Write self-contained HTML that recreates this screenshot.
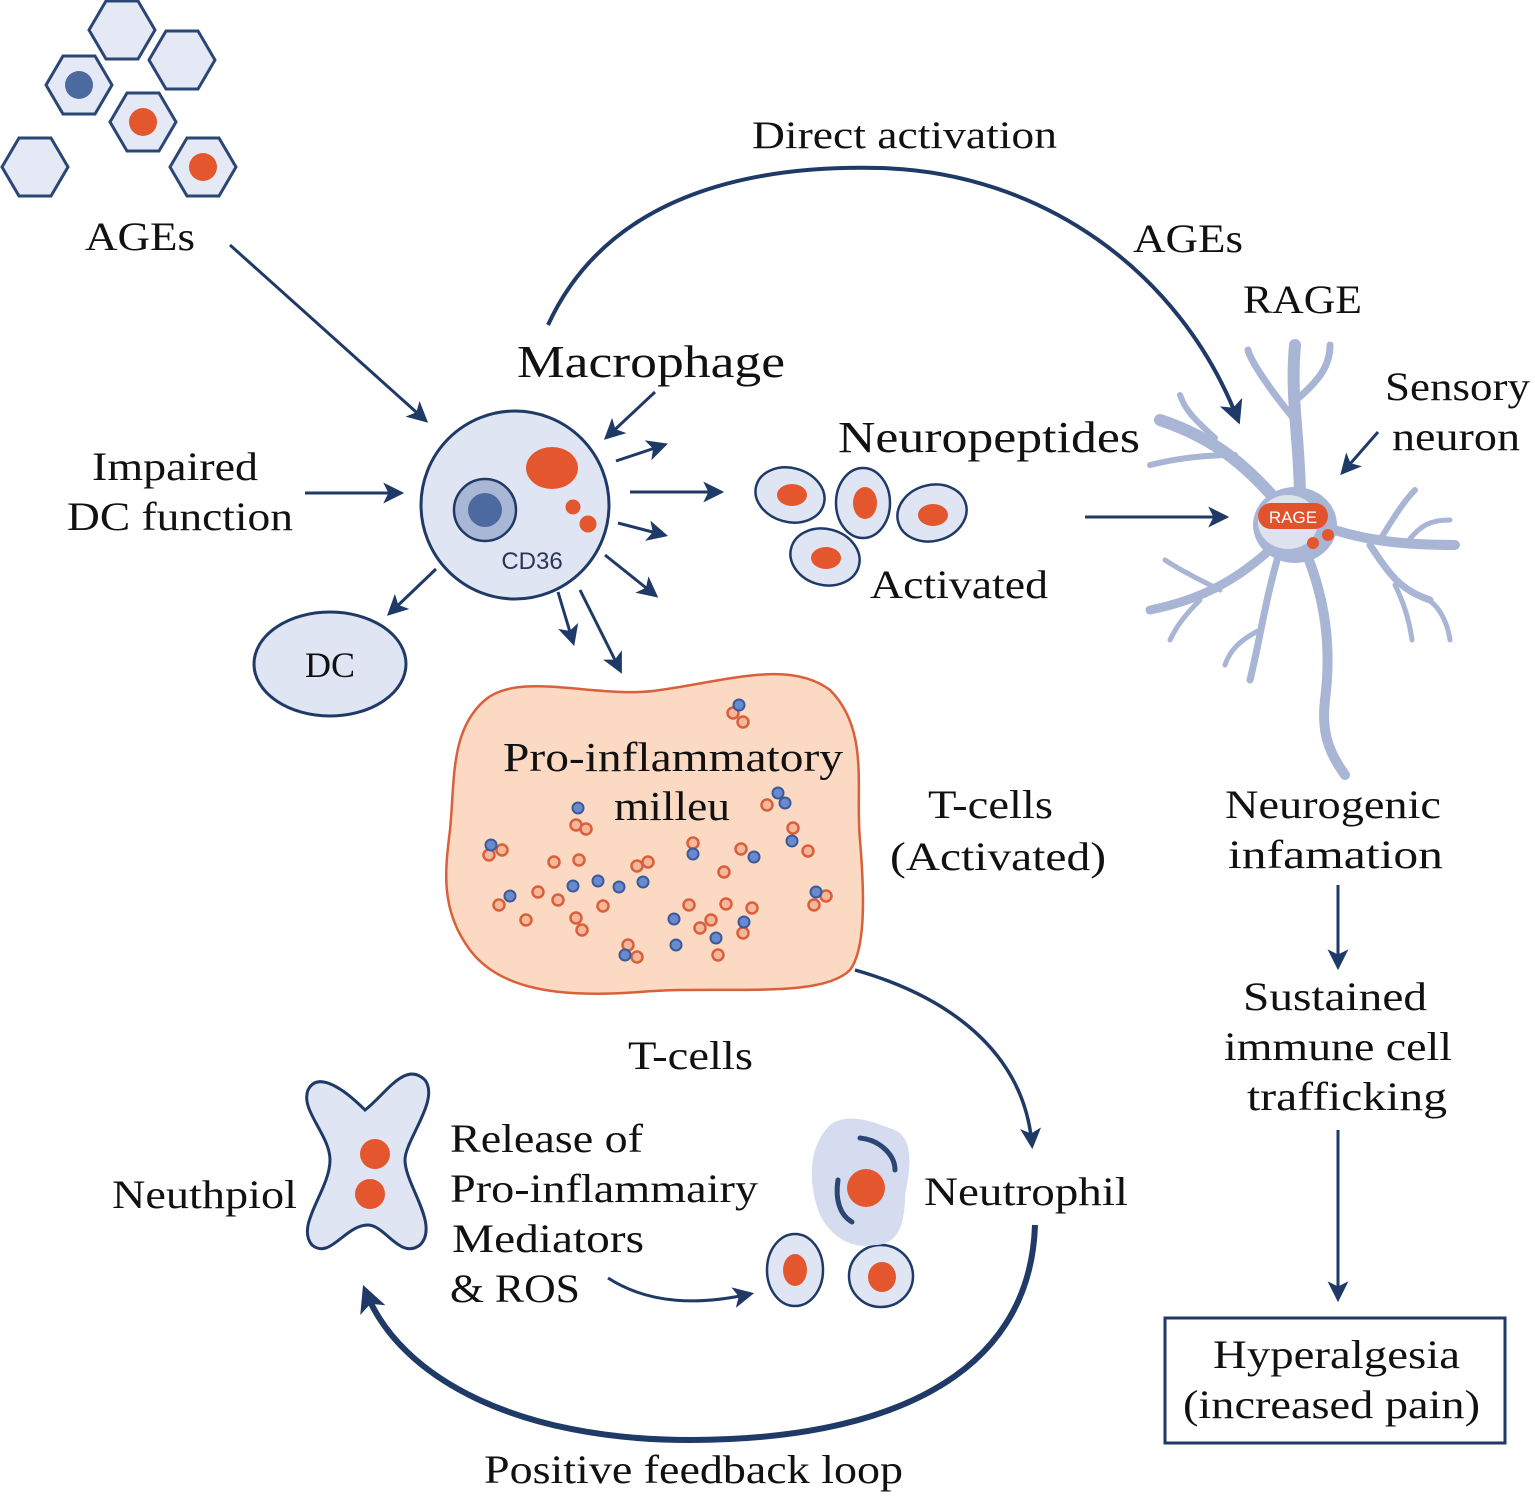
<!DOCTYPE html>
<html><head><meta charset="utf-8"><style>
html,body{margin:0;padding:0;background:#fff}
svg{display:block}
text{font-family:"Liberation Serif",serif;fill:#111}
</style></head><body>
<svg width="1535" height="1498" viewBox="0 0 1535 1498" xmlns="http://www.w3.org/2000/svg">
<defs>
<marker id="ah" viewBox="0 0 10 10" refX="8" refY="5" markerWidth="7" markerHeight="7" orient="auto" markerUnits="strokeWidth"><path d="M0,0 L10,5 L0,10 L2.5,5 z" fill="#1f3a66"/></marker>
<marker id="ahb" viewBox="0 0 10 10" refX="8" refY="5" markerWidth="6" markerHeight="6" orient="auto" markerUnits="strokeWidth"><path d="M0,0 L10,5 L0,10 L2.5,5 z" fill="#1f3a66"/></marker>
<marker id="ahc" viewBox="0 0 10 10" refX="8" refY="5" markerWidth="4.5" markerHeight="4.5" orient="auto" markerUnits="strokeWidth"><path d="M0,0 L10,5 L0,10 L2.5,5 z" fill="#1f3a66"/></marker>
<g id="hex"><polygon points="-33,0 -16,-29 16,-29 33,0 16,29 -16,29" fill="#e4e9f5" stroke="#2a4675" stroke-width="3"/></g>
</defs>

<use href="#hex" x="122" y="30"/>
<use href="#hex" x="182" y="60"/>
<use href="#hex" x="79" y="85"/>
<use href="#hex" x="143" y="122"/>
<use href="#hex" x="35" y="167"/>
<use href="#hex" x="203" y="167"/>
<circle cx="79" cy="85" r="14" fill="#4a6aa0"/>
<circle cx="143" cy="122" r="14" fill="#e4572e"/>
<circle cx="203" cy="167" r="14" fill="#e4572e"/>

<g stroke="#1f3a66" stroke-width="3" fill="none">
<line x1="230" y1="245" x2="425" y2="420" marker-end="url(#ah)"/>
<line x1="305" y1="493" x2="400" y2="493" marker-end="url(#ah)"/>
<line x1="655" y1="392" x2="607" y2="437" marker-end="url(#ah)"/>
<line x1="616" y1="461" x2="664" y2="445" marker-end="url(#ah)"/>
<line x1="630" y1="492" x2="720" y2="492" marker-end="url(#ah)"/>
<line x1="618" y1="523" x2="664" y2="535" marker-end="url(#ah)"/>
<line x1="605" y1="555" x2="655" y2="595" marker-end="url(#ah)"/>
<line x1="580" y1="590" x2="620" y2="670" marker-end="url(#ah)"/>
<line x1="558" y1="592" x2="573" y2="642" marker-end="url(#ah)"/>
<line x1="436" y1="569" x2="390" y2="613" marker-end="url(#ah)"/>
<line x1="1085" y1="517" x2="1225" y2="517" marker-end="url(#ah)"/>
<line x1="1378" y1="432" x2="1343" y2="472" marker-end="url(#ah)"/>
<line x1="1338" y1="885" x2="1338" y2="966" marker-end="url(#ah)"/>
<line x1="1338" y1="1130" x2="1338" y2="1298" marker-end="url(#ah)"/>
<path d="M548,325 C610,190 760,165 880,168 C1040,172 1180,270 1238,420" stroke-width="4" marker-end="url(#ahb)"/>
<path d="M855,970 C960,1000 1025,1060 1032,1145" stroke-width="3.5" marker-end="url(#ahb)"/>
<path d="M1035,1225 C1030,1380 880,1440 690,1440 C520,1440 400,1380 365,1290" stroke-width="6" marker-end="url(#ahc)"/>
<path d="M608,1278 C650,1305 700,1305 750,1294" stroke-width="3" marker-end="url(#ah)"/>
</g>

<circle cx="515" cy="505" r="94" fill="#dfe5f3" stroke="#1f3a66" stroke-width="3"/>
<circle cx="485" cy="510" r="31" fill="#a9b7d6" stroke="#1f3a66" stroke-width="2.5"/>
<circle cx="485" cy="510" r="17" fill="#4d6aa0"/>
<ellipse cx="552" cy="468" rx="26" ry="21" fill="#e4572e"/>
<circle cx="573" cy="507" r="7.5" fill="#e4572e"/>
<circle cx="588" cy="524" r="8.5" fill="#e4572e"/>
<text x="532" y="569" text-anchor="middle" style="font-family:'Liberation Sans',sans-serif;font-size:24px;fill:#2a3558">CD36</text>

<ellipse cx="330" cy="664" rx="76" ry="52" fill="#dfe5f3" stroke="#1f3a66" stroke-width="3"/>
<text x="330" y="677" text-anchor="middle" font-size="36">DC</text>

<g stroke="#1f3a66" stroke-width="2.5" fill="#dfe5f3">
<ellipse cx="790" cy="495" rx="35" ry="27" transform="rotate(15 790 495)"/>
<ellipse cx="863" cy="503" rx="27" ry="35"/>
<ellipse cx="932" cy="513" rx="35" ry="28" transform="rotate(-15 932 513)"/>
<ellipse cx="825" cy="557" rx="35" ry="28" transform="rotate(15 825 557)"/>
<ellipse cx="795" cy="1270" rx="28" ry="36"/>
<ellipse cx="881" cy="1276" rx="32" ry="31"/>
</g>
<g fill="#e4572e">
<ellipse cx="792" cy="495" rx="15" ry="11"/>
<ellipse cx="865" cy="503" rx="12" ry="16"/>
<ellipse cx="933" cy="515" rx="15" ry="11"/>
<ellipse cx="826" cy="558" rx="15" ry="11"/>
<ellipse cx="795" cy="1270" rx="12" ry="16"/>
<ellipse cx="882" cy="1277" rx="14" ry="15"/>
</g>

<g stroke="#a9b5d4" stroke-linecap="round" stroke-linejoin="round" fill="none">
<path d="M1300,500 C1300,440 1290,400 1295,345" stroke-width="12"/>
<path d="M1296,400 C1320,380 1330,365 1330,345" stroke-width="7"/>
<path d="M1295,420 C1270,390 1250,360 1248,350" stroke-width="7"/>
<path d="M1285,510 C1250,470 1220,440 1160,420" stroke-width="12"/>
<path d="M1235,455 C1200,455 1170,460 1150,465" stroke-width="6"/>
<path d="M1215,438 C1195,420 1185,410 1180,395" stroke-width="6"/>
<path d="M1320,525 C1360,540 1400,545 1455,545" stroke-width="10"/>
<path d="M1380,540 C1395,515 1405,500 1415,490" stroke-width="6"/>
<path d="M1405,545 C1420,525 1430,520 1450,520" stroke-width="5"/>
<path d="M1370,545 C1390,575 1400,590 1430,600" stroke-width="7"/>
<path d="M1395,585 C1405,605 1410,625 1412,640" stroke-width="5"/>
<path d="M1425,598 C1440,605 1448,625 1450,640" stroke-width="5"/>
<path d="M1280,540 C1240,580 1200,600 1150,610" stroke-width="9"/>
<path d="M1220,590 C1200,580 1180,570 1165,560" stroke-width="5"/>
<path d="M1200,600 C1180,620 1175,630 1170,640" stroke-width="5"/>
<path d="M1280,550 C1265,600 1260,640 1250,680" stroke-width="7"/>
<path d="M1260,630 C1240,640 1230,650 1225,665" stroke-width="5"/>
<path d="M1305,550 C1330,610 1330,660 1325,700 C1320,740 1335,760 1345,775" stroke-width="10"/>
</g>
<ellipse cx="1295" cy="525" rx="42" ry="38" fill="#a9b5d4"/>
<ellipse cx="1288" cy="522" rx="30" ry="27" fill="#dde2ee"/>
<circle cx="1313" cy="543" r="6" fill="#e4572e"/>
<circle cx="1328" cy="535" r="6" fill="#e4572e"/>
<rect x="1258" y="503" width="70" height="26" rx="13" fill="#e0532c"/>
<text x="1293" y="523" text-anchor="middle" style="font-family:'Liberation Sans',sans-serif;font-size:17px;fill:#fff">RAGE</text>

<path d="M485,700 C520,670 600,700 660,690 C730,680 790,660 830,690 C870,730 855,790 860,840 C865,900 865,950 850,970 C820,1000 720,985 640,992 C560,998 500,990 470,950 C440,910 445,870 450,830 C455,780 450,730 485,700 Z" fill="#fbd9c3" stroke="#d9603a" stroke-width="2.5"/>
<g stroke="#d9603a" stroke-width="2.5" fill="#f6b89c">
<circle cx="733" cy="713" r="5.5"/><circle cx="743" cy="722" r="5.5"/>
<circle cx="576" cy="825" r="5.5"/><circle cx="586" cy="829" r="5.5"/>
<circle cx="767" cy="805" r="5.5"/><circle cx="793" cy="828" r="5.5"/><circle cx="808" cy="851" r="5.5"/>
<circle cx="489" cy="855" r="5.5"/><circle cx="502" cy="850" r="5.5"/>
<circle cx="554" cy="862" r="5.5"/><circle cx="579" cy="860" r="5.5"/><circle cx="637" cy="866" r="5.5"/><circle cx="648" cy="862" r="5.5"/>
<circle cx="693" cy="843" r="5.5"/><circle cx="741" cy="849" r="5.5"/><circle cx="724" cy="872" r="5.5"/>
<circle cx="499" cy="905" r="5.5"/><circle cx="538" cy="892" r="5.5"/><circle cx="558" cy="900" r="5.5"/><circle cx="603" cy="906" r="5.5"/>
<circle cx="526" cy="920" r="5.5"/><circle cx="576" cy="918" r="5.5"/><circle cx="582" cy="930" r="5.5"/>
<circle cx="689" cy="905" r="5.5"/><circle cx="726" cy="904" r="5.5"/><circle cx="752" cy="908" r="5.5"/>
<circle cx="700" cy="928" r="5.5"/><circle cx="711" cy="920" r="5.5"/><circle cx="743" cy="933" r="5.5"/>
<circle cx="628" cy="945" r="5.5"/><circle cx="637" cy="957" r="5.5"/><circle cx="718" cy="955" r="5.5"/>
<circle cx="814" cy="905" r="5.5"/><circle cx="826" cy="896" r="5.5"/>
</g>
<g stroke="#3a5a9a" stroke-width="2" fill="#6a8ad0">
<circle cx="739" cy="705" r="5.5"/><circle cx="578" cy="808" r="5.5"/><circle cx="778" cy="793" r="5.5"/><circle cx="785" cy="803" r="5.5"/>
<circle cx="491" cy="845" r="5.5"/><circle cx="693" cy="854" r="5.5"/><circle cx="754" cy="857" r="5.5"/><circle cx="792" cy="841" r="5.5"/>
<circle cx="510" cy="896" r="5.5"/><circle cx="573" cy="886" r="5.5"/><circle cx="598" cy="881" r="5.5"/><circle cx="619" cy="887" r="5.5"/><circle cx="643" cy="882" r="5.5"/>
<circle cx="674" cy="919" r="5.5"/><circle cx="676" cy="945" r="5.5"/><circle cx="716" cy="938" r="5.5"/><circle cx="744" cy="922" r="5.5"/>
<circle cx="625" cy="955" r="5.5"/><circle cx="816" cy="892" r="5.5"/>
</g>

<path d="M308,1090 C318,1070 345,1090 365,1110 C385,1095 405,1060 425,1080 C440,1100 405,1140 405,1160 C405,1185 440,1225 420,1245 C400,1260 385,1225 368,1225 C345,1225 330,1260 312,1245 C295,1225 330,1190 330,1160 C330,1135 300,1110 308,1090 Z" fill="#dfe5f3" stroke="#1f3a66" stroke-width="3"/>
<circle cx="375" cy="1154" r="15" fill="#e4572e"/>
<circle cx="370" cy="1194" r="15" fill="#e4572e"/>

<path d="M830,1125 C850,1110 880,1125 895,1130 C915,1140 910,1170 905,1195 C905,1220 900,1245 875,1245 C850,1250 830,1235 820,1215 C810,1190 805,1150 830,1125 Z" fill="#d5dcef"/>
<circle cx="866" cy="1188" r="19" fill="#e4572e"/>
<path d="M860,1138 C880,1140 895,1155 895,1170" stroke="#2a4675" stroke-width="5" fill="none" stroke-linecap="round"/>
<path d="M838,1180 C835,1200 840,1215 852,1222" stroke="#2a4675" stroke-width="5" fill="none" stroke-linecap="round"/>

<rect x="1165" y="1318" width="340" height="125" fill="#fff" stroke="#1f3a66" stroke-width="3"/>

<g font-size="40" lengthAdjust="spacingAndGlyphs">
<text x="752" y="148" font-size="39" textLength="305" lengthAdjust="spacingAndGlyphs">Direct activation</text>
<text x="85" y="250" textLength="110" lengthAdjust="spacingAndGlyphs">AGEs</text>
<text x="1133" y="252" textLength="110" lengthAdjust="spacingAndGlyphs">AGEs</text>
<text x="1243" y="313" textLength="119" lengthAdjust="spacingAndGlyphs">RAGE</text>
<text x="517" y="377" font-size="46" textLength="268" lengthAdjust="spacingAndGlyphs">Macrophage</text>
<text x="838" y="452" font-size="44" textLength="302" lengthAdjust="spacingAndGlyphs">Neuropeptides</text>
<text x="1385" y="400" textLength="145" lengthAdjust="spacingAndGlyphs">Sensory</text>
<text x="1392" y="450" textLength="128" lengthAdjust="spacingAndGlyphs">neuron</text>
<text x="92" y="480" textLength="166" lengthAdjust="spacingAndGlyphs">Impaired</text>
<text x="67" y="530" textLength="226" lengthAdjust="spacingAndGlyphs">DC function</text>
<text x="870" y="598" textLength="178" lengthAdjust="spacingAndGlyphs">Activated</text>
<text x="503" y="771" font-size="41" textLength="340" lengthAdjust="spacingAndGlyphs">Pro-inflammatory</text>
<text x="614" y="820" font-size="41" textLength="116" lengthAdjust="spacingAndGlyphs">milleu</text>
<text x="928" y="818" textLength="125" lengthAdjust="spacingAndGlyphs">T-cells</text>
<text x="890" y="870" textLength="216" lengthAdjust="spacingAndGlyphs">(Activated)</text>
<text x="1225" y="818" textLength="216" lengthAdjust="spacingAndGlyphs">Neurogenic</text>
<text x="1228" y="868" textLength="215" lengthAdjust="spacingAndGlyphs">infamation</text>
<text x="1243" y="1010" textLength="184" lengthAdjust="spacingAndGlyphs">Sustained</text>
<text x="1224" y="1060" textLength="228" lengthAdjust="spacingAndGlyphs">immune cell</text>
<text x="1247" y="1110" textLength="200" lengthAdjust="spacingAndGlyphs">trafficking</text>
<text x="628" y="1069" textLength="125" lengthAdjust="spacingAndGlyphs">T-cells</text>
<text x="450" y="1152" textLength="193" lengthAdjust="spacingAndGlyphs">Release of</text>
<text x="450" y="1202" textLength="308" lengthAdjust="spacingAndGlyphs">Pro-inflammairy</text>
<text x="452" y="1252" textLength="192" lengthAdjust="spacingAndGlyphs">Mediators</text>
<text x="450" y="1302" textLength="130" lengthAdjust="spacingAndGlyphs">&amp; ROS</text>
<text x="112" y="1208" textLength="185" lengthAdjust="spacingAndGlyphs">Neuthpiol</text>
<text x="924" y="1205" textLength="204" lengthAdjust="spacingAndGlyphs">Neutrophil</text>
<text x="1213" y="1368" textLength="247" lengthAdjust="spacingAndGlyphs">Hyperalgesia</text>
<text x="1183" y="1418" textLength="297" lengthAdjust="spacingAndGlyphs">(increased pain)</text>
<text x="484" y="1483" textLength="419" lengthAdjust="spacingAndGlyphs">Positive feedback loop</text>
</g>
</svg>
</body></html>
